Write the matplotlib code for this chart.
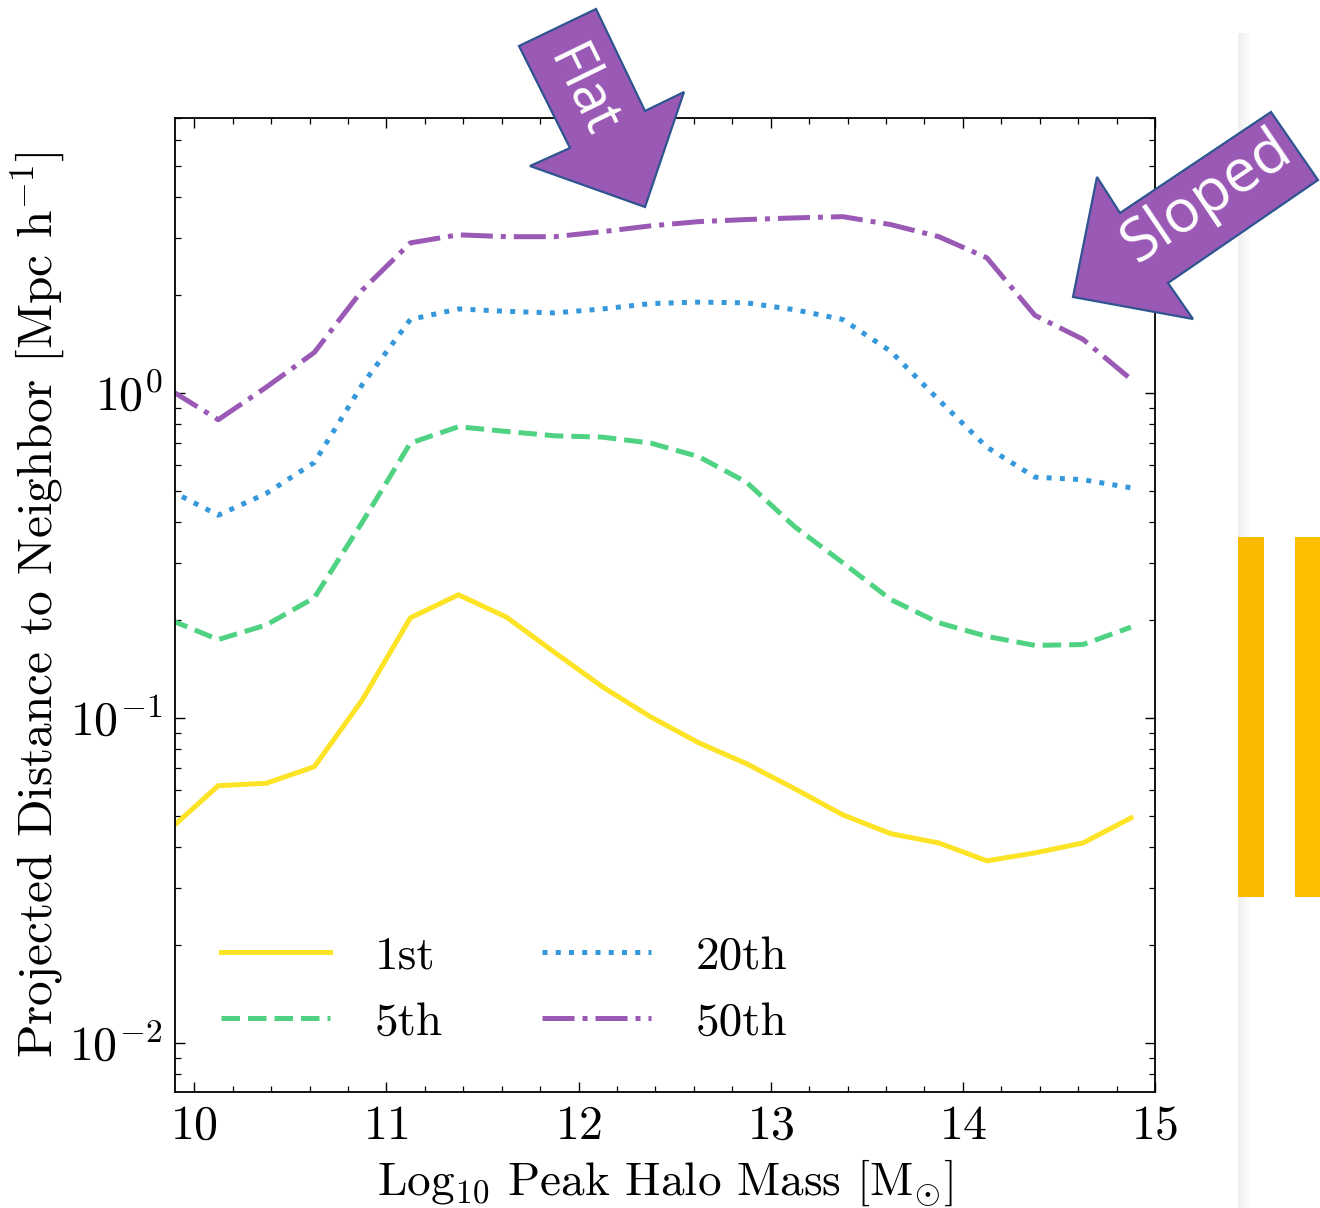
import matplotlib
matplotlib.use("Agg")
import matplotlib.pyplot as plt
from matplotlib.patches import Polygon, Rectangle
from matplotlib.ticker import MultipleLocator, LogLocator, NullFormatter

plt.rcParams['font.family'] = 'serif'
plt.rcParams['font.serif'] = ['cmr10']
plt.rcParams['mathtext.fontset'] = 'cm'
plt.rcParams['axes.formatter.use_mathtext'] = True
plt.rcParams['axes.unicode_minus'] = False

# ---- data ----
mass = [9.875, 10.125, 10.375, 10.625, 10.875, 11.125, 11.375, 11.625, 11.875, 12.125,
        12.375, 12.625, 12.875, 13.125, 13.375, 13.625, 13.875, 14.125, 14.375, 14.625, 14.875]
d_1st = [0.0455, 0.0618, 0.0629, 0.0707, 0.1136, 0.203, 0.239, 0.204, 0.159, 0.1245,
         0.1007, 0.0838, 0.0722, 0.0605, 0.0503, 0.0440, 0.0412, 0.0363, 0.0384, 0.0412, 0.0492]
d_5th = [0.20, 0.174, 0.193, 0.234, 0.40, 0.70, 0.786, 0.76, 0.737, 0.73,
         0.70, 0.636, 0.53, 0.387, 0.30, 0.231, 0.196, 0.178, 0.167, 0.168, 0.19]
d_20th = [0.50, 0.42, 0.49, 0.61, 1.06, 1.68, 1.81, 1.78, 1.76, 1.81,
          1.88, 1.90, 1.89, 1.80, 1.68, 1.34, 0.95, 0.68, 0.55, 0.54, 0.51]
d_50th = [1.02, 0.826, 1.04, 1.33, 2.07, 2.89, 3.06, 3.02, 3.02, 3.13,
          3.26, 3.36, 3.41, 3.45, 3.48, 3.29, 3.02, 2.60, 1.73, 1.46, 1.10]
labels = ['1st', '5th', '20th', '50th']
colors = ['#FDE325', '#50D283', '#3498DB', '#9B59B6']
styles = ['-', '--', ':', '-.']

W, H = 1320, 1208
fig = plt.figure(figsize=(W / 100, H / 100), dpi=100)
ax = fig.add_axes([175 / W, 1 - 1092 / H, (1155 - 175) / W, (1092 - 118) / H])

for yv, lab, c, ls in zip([d_1st, d_5th, d_20th, d_50th], labels, colors, styles):
    ax.plot(mass, yv, color=c, ls=ls, lw=3.6, label=lab)

ax.set_yscale('log')
ax.set_xlim(9.9, 15.0)
ax.set_ylim(0.00706, 7.0)
ax.xaxis.set_major_locator(MultipleLocator(1))
ax.xaxis.set_minor_locator(MultipleLocator(0.2))
ax.yaxis.set_major_locator(LogLocator(base=10, numticks=10))
ax.yaxis.set_minor_locator(LogLocator(base=10, subs=range(2, 10), numticks=20))
ax.yaxis.set_minor_formatter(NullFormatter())
ax.tick_params(which='both', direction='in', top=True, right=True, labelsize=34.5)
ax.tick_params(which='major', length=7, width=1.0, pad=9)
ax.tick_params(which='minor', length=4, width=0.9)
for sp in ax.spines.values():
    sp.set_linewidth(1.3)

ax.set_xlabel(r'Log$_{10}$ Peak Halo Mass [M$_{\odot}$]', fontsize=34, labelpad=6)
ax.set_ylabel(r'Projected Distance to Neighbor [Mpc h$^{-1}$]', fontsize=35.5, labelpad=1)

ax.legend(ncol=2, loc='lower left', frameon=False, fontsize=34, handlelength=2.3,
          handletextpad=0.95, columnspacing=2.1, labelspacing=0.5,
          bbox_to_anchor=(0.004, 0.006))

# ---- background decorations (screenshot residue) ----
def px(x, y):
    return (x / W, 1 - y / H)

for i in range(14):
    g = 0.935 + i * 0.005
    fig.patches.append(Rectangle(px(1238 + i, H), 1 / W, (H - 33) / H,
                                 transform=fig.transFigure, color=(g, g, g), lw=0, zorder=0))
fig.patches.append(Rectangle(px(1238, 897), 26 / W, 360 / H, transform=fig.transFigure,
                             color='#F8BB00', lw=0, zorder=1))
fig.patches.append(Rectangle(px(1295, 897), 26 / W, 360 / H, transform=fig.transFigure,
                             color='#FCBF00', lw=0, zorder=1))

# ---- arrows ----
flat_pts = [(519, 46), (596, 9), (645, 111), (684, 92), (645, 207), (530, 166), (570, 148)]
sloped_pts = [(1271, 112), (1318, 180), (1168, 283), (1193, 319), (1073, 297), (1097, 177), (1120, 213)]
for pts in (flat_pts, sloped_pts):
    fig.patches.append(Polygon([px(x, y) for x, y in pts], closed=True, transform=fig.transFigure,
                               facecolor='#9B59B6', edgecolor='#2F5590', lw=1.6, zorder=5))
fig.text(*px(582, 92), 'Flat', family='Open Sans', color='white', fontsize=40,
         rotation=-64, ha='center', va='center', rotation_mode='anchor', zorder=6)
fig.text(*px(1207, 197), 'Sloped', family='Open Sans', color='white', fontsize=43,
         rotation=34, ha='center', va='center', rotation_mode='anchor', zorder=6)

fig.savefig('out.png', dpi=100)
